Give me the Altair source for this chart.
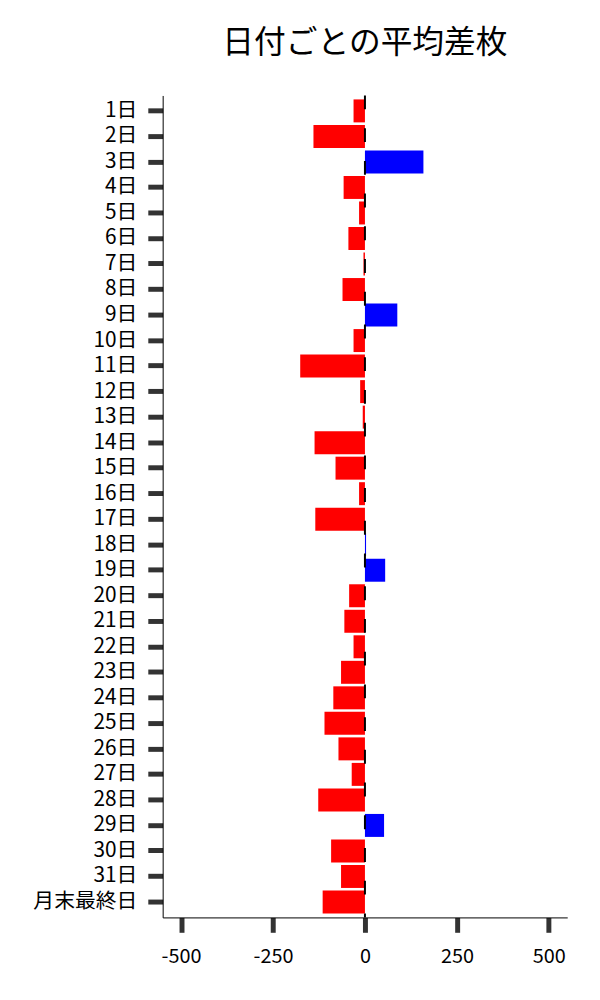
import altair as alt
import pandas as pd

days = [f"{i}日" for i in range(1, 32)] + ["月末最終日"]
values = [-31, -140, 159, -58, -16, -45, -4, -61, 88, -31,
          -176, -13, -6, -137, -80, -16, -135, 3, 55, -43,
          -56, -31, -65, -86, -110, -72, -36, -127, 52, -92,
          -65, -115]
x_ticks = [-500, -250, 0, 250, 500]

df = pd.DataFrame({"day": days, "value": values})

FONT = "Noto Sans CJK JP"

bars = alt.Chart(df).mark_bar().encode(
    y=alt.Y("day:N", sort=days,
            scale=alt.Scale(paddingInner=0.1, paddingOuter=0.155),
            axis=alt.Axis(title=None, labelFontSize=21, labelFont=FONT,
                          labelColor="black", tickColor="#333333",
                          tickWidth=5, tickSize=15, labelPadding=11,
                          domainColor="black", domainWidth=1)),
    x=alt.X("value:Q",
            scale=alt.Scale(domain=[-550, 550], nice=False, zero=False),
            axis=alt.Axis(title=None, values=x_ticks, grid=False,
                          labelFontSize=20, labelFont=FONT, labelColor="black",
                          labelExpr="toString(datum.value)",
                          tickColor="#333333", tickWidth=5, tickSize=15,
                          labelPadding=14, domainColor="black",
                          domainWidth=1, labelFlush=False)),
    color=alt.condition(alt.datum.value > 0, alt.value("#0000ff"),
                        alt.value("#ff0000")),
)

zero = alt.Chart(pd.DataFrame({"z": [0]})).mark_rule(
    color="black", strokeWidth=2, strokeDash=[14, 19]
).encode(x="z:Q")

chart = (bars + zero).properties(
    width=408, height=829,
    title=alt.TitleParams("日付ごとの平均差枚", fontSize=32, font=FONT,
                          fontWeight="normal", color="black", anchor="middle",
                          offset=35),
    autosize=alt.AutoSizeParams(type="none"),
    padding={"left": 156, "top": 84, "right": 25, "bottom": 70},
).configure_view(stroke=None).configure_axis(grid=False)

chart.save("out.html", embed_options={"renderer": "svg", "actions": False})
